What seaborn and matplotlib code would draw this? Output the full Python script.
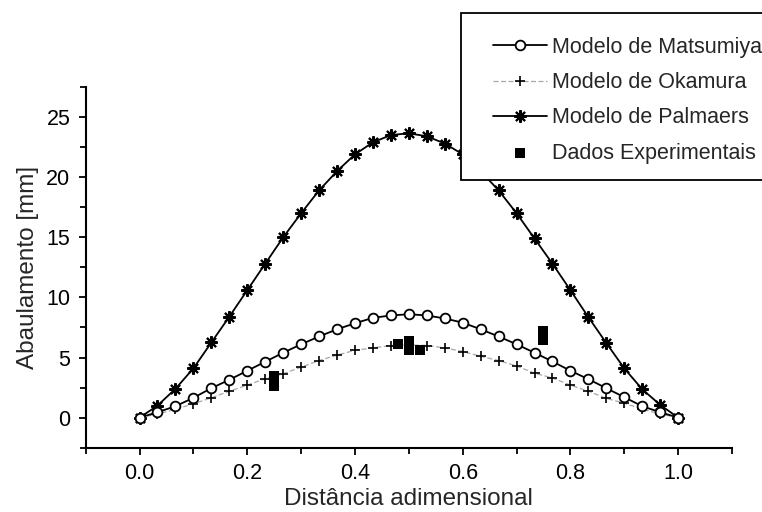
import matplotlib
matplotlib.use("Agg")
import matplotlib.pyplot as plt
import seaborn as sns
import pandas as pd
from matplotlib.patches import Rectangle
from matplotlib.ticker import MultipleLocator

# ---- data ----
x_pos = [0.0, 0.0333, 0.0667, 0.1, 0.1333, 0.1667, 0.2, 0.2333, 0.2667, 0.3,
         0.3333, 0.3667, 0.4, 0.4333, 0.4667, 0.5, 0.5333, 0.5667, 0.6, 0.6333,
         0.6667, 0.7, 0.7333, 0.7667, 0.8, 0.8333, 0.8667, 0.9, 0.9333, 0.9667, 1.0]

matsumiya = [0.0, 0.45, 0.95, 1.65, 2.45, 3.15, 3.9, 4.65, 5.4, 6.1,
             6.75, 7.35, 7.85, 8.3, 8.5, 8.6, 8.5, 8.25, 7.9, 7.35,
             6.75, 6.1, 5.4, 4.67, 3.9, 3.2, 2.45, 1.7, 0.95, 0.45, 0.0]

okamura = [0.0, 0.3, 0.7, 1.15, 1.65, 2.2, 2.7, 3.25, 3.65, 4.2,
           4.75, 5.2, 5.6, 5.8, 6.0, 6.05, 6.0, 5.8, 5.5, 5.1,
           4.75, 4.3, 3.7, 3.3, 2.7, 2.2, 1.6, 1.2, 0.7, 0.3, 0.0]

palmaers = [0.0, 1.0, 2.4, 4.1, 6.25, 8.4, 10.6, 12.8, 15.0, 17.0,
            18.9, 20.5, 21.9, 22.9, 23.5, 23.65, 23.4, 22.8, 21.9, 20.5,
            18.9, 17.0, 14.9, 12.8, 10.6, 8.36, 6.2, 4.1, 2.36, 1.06, 0.0]

exp_x = [0.25, 0.25, 0.48, 0.50, 0.50, 0.52, 0.75, 0.75]
exp_y = [2.6, 3.5, 6.1, 5.6, 6.4, 5.6, 6.45, 7.2]

labels = ["Modelo de Matsumiya", "Modelo de Okamura",
          "Modelo de Palmaers", "Dados Experimentais"]
x_label = "Distância adimensional"
y_label = "Abaulamento [mm]"

# ---- figure ----
sns.set_style("ticks")
plt.rcParams["font.family"] = ["Liberation Sans", "DejaVu Sans"]

W, H = 762, 512
fig = plt.figure(figsize=(W / 100, H / 100), dpi=100)
ax = fig.add_axes([85.7 / W, 1 - 447.7 / H, (732 - 85.7) / W, (447.7 - 87) / H])

df = pd.DataFrame({"x": x_pos, "m": matsumiya, "o": okamura, "p": palmaers})
dfe = pd.DataFrame({"x": exp_x, "y": exp_y})

sns.lineplot(data=df, x="x", y="o", ax=ax, color="#a8a8a8", lw=0.9,
             dashes=False, linestyle=(0, (4, 2)), marker="+", markersize=7,
             markeredgecolor="black", markeredgewidth=1.2, label=labels[1],
             zorder=2)
sns.lineplot(data=df, x="x", y="p", ax=ax, color="black", lw=1.3,
             marker=(8, 2, 0), markersize=9, markeredgecolor="black",
             markeredgewidth=1.5, label=labels[2], zorder=3)
sns.lineplot(data=df, x="x", y="m", ax=ax, color="black", lw=1.3,
             marker="o", markersize=7, markerfacecolor="white",
             markeredgecolor="black", markeredgewidth=1.3, label=labels[0],
             zorder=4)
sns.scatterplot(data=dfe, x="x", y="y", ax=ax, color="black", marker="s",
                s=50, linewidth=0, label=labels[3], zorder=5)

ax.set_xlim(-0.1, 1.1)
ax.set_ylim(-2.5, 27.5)
ax.xaxis.set_minor_locator(MultipleLocator(0.1))
ax.yaxis.set_minor_locator(MultipleLocator(2.5))
ax.set_xticks([0.0, 0.2, 0.4, 0.6, 0.8, 1.0])
ax.set_xticklabels(["0.0", "0.2", "0.4", "0.6", "0.8", "1.0"])
ax.set_yticks([0, 5, 10, 15, 20, 25])

for s in ["top", "right"]:
    ax.spines[s].set_visible(False)
for s in ["left", "bottom"]:
    ax.spines[s].set_linewidth(1.5)
    ax.spines[s].set_color("black")

ax.tick_params(axis="both", which="major", direction="out", length=5,
               width=1.3, labelsize=15.5, colors="black", pad=6)
ax.tick_params(axis="both", which="minor", direction="out", length=4,
               width=1.3, colors="black")

ax.set_xlabel(x_label, fontsize=17.5, labelpad=3)
ax.set_ylabel(y_label, fontsize=17.5, labelpad=5)

# legend
h, l = ax.get_legend_handles_labels()
order = [l.index(t) for t in labels]
if ax.get_legend():
    ax.get_legend().remove()
leg = fig.legend([h[i] for i in order], [l[i] for i in order],
                 loc="upper left", bbox_to_anchor=(493 / W, 1 - 37 / H),
                 frameon=False, fontsize=15.5, borderpad=0, borderaxespad=0,
                 handlelength=2.5, handletextpad=0.25, labelspacing=0.66,
                 scatterpoints=1, numpoints=1)

rect = Rectangle((461 / W, 1 - 180 / H), 320 / W, 167 / H,
                 transform=fig.transFigure, fill=True, facecolor="white",
                 edgecolor="black", linewidth=1.3, clip_on=False, zorder=0)
fig.patches.append(rect)

fig.savefig("out.png", dpi=100)
